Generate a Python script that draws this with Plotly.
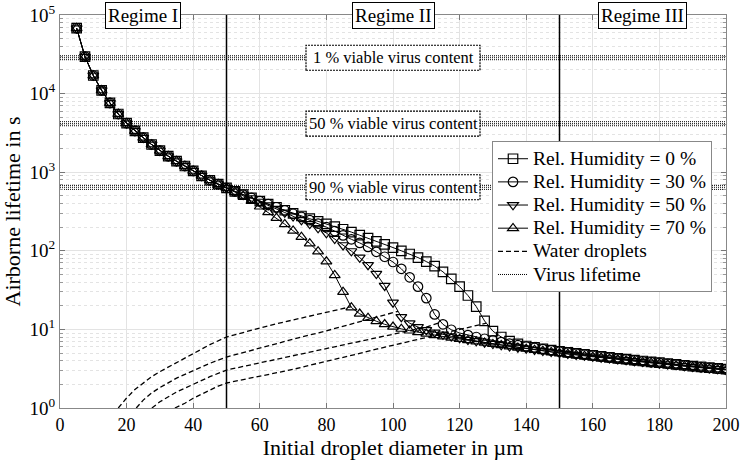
import math
import plotly.graph_objects as go

# initial droplet diameter (um), one marker every 2.5 um
diameter = [5, 7.5, 10, 12.5, 15, 17.5, 20, 22.5, 25, 27.5,
            30, 32.5, 35, 37.5, 40, 42.5, 45, 47.5, 50,
            52.5, 55, 57.5, 60, 62.5, 65, 67.5, 70, 72.5, 75,
            77.5, 80, 82.5, 85, 87.5, 90, 92.5, 95, 97.5, 100,
            102.5, 105, 107.5, 110, 112.5, 115, 117.5, 120, 122.5, 125,
            127.5, 130, 132.5, 135, 137.5, 140, 142.5, 145, 147.5, 150,
            152.5, 155, 157.5, 160, 162.5, 165, 167.5, 170, 172.5, 175,
            177.5, 180, 182.5, 185, 187.5, 190, 192.5, 195, 197.5, 200]

# regime I, same for every humidity (5 .. 50 um)
shared_regime1 = [68000, 29500, 17000, 11000, 7600, 5500, 4200, 3350, 2750, 2250,
                  1880, 1600, 1380, 1200, 1040, 900, 790, 705, 630]

# 52.5 .. 200 um
rh0_tail = [570, 518, 470, 428, 392, 358, 328, 300, 277, 256,
            237, 220, 203, 188, 173, 158, 145, 132, 121, 110,
            100, 91, 82, 73, 64, 54, 44, 35, 27, 19.5,
            12.8, 9.5, 8.0, 7.1, 6.55, 6.15, 5.9, 5.65, 5.45, 5.27,
            5.1, 4.95, 4.8, 4.66, 4.53, 4.4, 4.29, 4.18, 4.07, 3.96,
            3.87, 3.77, 3.68, 3.59, 3.5, 3.42, 3.34, 3.27, 3.19, 3.12]
rh30_tail = [570, 518, 470, 428, 392, 358, 326, 296, 270, 245,
             222, 200, 178, 157, 140, 126, 112, 97, 84, 72,
             59, 46, 35, 25, 15.5, 11.6, 9.9, 9.0, 8.45, 8.0,
             7.6, 7.25, 6.9, 6.6, 6.3, 6.05, 5.82, 5.6, 5.4, 5.22,
             5.06, 4.91, 4.76, 4.62, 4.49, 4.37, 4.25, 4.14, 4.03, 3.93,
             3.83, 3.74, 3.65, 3.56, 3.47, 3.39, 3.31, 3.24, 3.16, 3.09]
rh50_tail = [570, 518, 468, 422, 380, 342, 307, 275, 246, 220,
             195, 168, 142, 118, 99, 82, 66, 51, 36, 22,
             14.4, 12.0, 10.7, 9.8, 9.15, 8.6, 8.15, 7.75, 7.4, 7.1,
             6.82, 6.56, 6.32, 6.1, 5.9, 5.7, 5.52, 5.35, 5.2, 5.05,
             4.91, 4.77, 4.64, 4.52, 4.4, 4.29, 4.18, 4.07, 3.97, 3.87,
             3.78, 3.69, 3.6, 3.51, 3.43, 3.35, 3.28, 3.2, 3.13, 3.06]
rh70_tail = [560, 500, 430, 365, 310, 262, 218, 180, 150, 124,
             98, 73, 49, 30, 19, 15.8, 14.0, 12.7, 11.6, 10.8,
             10.15, 9.65, 9.2, 8.8, 8.45, 8.12, 7.82, 7.55, 7.28, 7.03,
             6.78, 6.5, 6.27, 6.05, 5.85, 5.65, 5.47, 5.3, 5.14, 4.99,
             4.85, 4.72, 4.59, 4.47, 4.35, 4.24, 4.13, 4.03, 3.93, 3.83,
             3.74, 3.65, 3.56, 3.48, 3.4, 3.32, 3.25, 3.17, 3.1, 3.03]

humidity_names = ["Rel. Humidity = 0 %", "Rel. Humidity = 30 %",
                  "Rel. Humidity = 50 %", "Rel. Humidity = 70 %"]
humidity_symbols = ["square-open", "circle-open", "triangle-down-open", "triangle-up-open"]
humidity_values = [shared_regime1 + rh0_tail, shared_regime1 + rh30_tail,
                   shared_regime1 + rh50_tail, shared_regime1 + rh70_tail]

# pure water droplets (dashed)
water_d = [
    [34.5, 37.5, 40, 42.5, 45, 47.5, 50, 55, 60, 65, 70, 75, 80, 85, 90, 95, 100, 105, 110, 115, 120, 125, 128],
    [27.6, 30, 35, 40, 45, 50, 60, 70, 80, 90, 100, 110, 114],
    [22.9, 25, 27.5, 30, 35, 40, 45, 50, 60, 70, 80, 90, 100, 101.5],
    [17.5, 20, 22.5, 25, 27.5, 30, 35, 40, 45, 50, 55, 60, 65, 70, 75, 80, 85, 87.5],
]
water_t = [
    [1.0, 1.15, 1.33, 1.5, 1.7, 1.9, 2.08, 2.3, 2.5, 2.78, 3.1, 3.5, 3.9, 4.4, 4.95, 5.6, 6.25, 7.0, 7.9, 8.9, 10.0, 11.2, 12.0],
    [1.0, 1.2, 1.6, 2.0, 2.5, 3.04, 3.74, 4.6, 5.7, 7.0, 8.6, 10.7, 12.2],
    [1.0, 1.26, 1.55, 1.82, 2.4, 3.0, 3.7, 4.45, 5.8, 7.5, 9.6, 12.4, 16.2, 17.0],
    [1.0, 1.34, 1.72, 2.1, 2.5, 2.9, 3.8, 5.0, 6.4, 8.0, 9.2, 10.4, 11.8, 13.2, 14.8, 16.6, 18.6, 19.5],
]

# virus lifetime bands (s)
virus_labels = ["1 % viable virus content", "50 % viable virus content", "90 % viable virus content"]
virus_bands = [[27000, 28600, 30300], [3900, 4140, 4390], [605, 643, 680]]
x_span = [0, 200]

regime_names = ["Regime I", "Regime II", "Regime III"]
regime_centers = [25, 100, 175]
regime_bounds = [50, 150]

FONT = "Liberation Serif, Times New Roman, serif"

# plot box is 666 x 393 px -> used to size the label frames
PX_PER_UM = 666 / 200
PX_PER_DECADE = 393 / 5


def leg(name):
    # legend spacing follows legend.font.size, the text itself is drawn larger
    return '<span style="font-size:19.5px">' + name + "</span>"


fig = go.Figure()

first = True
for band in virus_bands:
    for v in band:
        fig.add_trace(go.Scatter(
            x=x_span, y=[v, v], mode="lines", name=leg("Virus lifetime"),
            line=dict(color="black", width=1, dash="1px,1px"),
            legendgroup="virus", showlegend=first, legendrank=6))
        first = False

for i in range(len(water_d)):
    fig.add_trace(go.Scatter(
        x=water_d[i], y=water_t[i], mode="lines", name=leg("Water droplets"),
        line=dict(color="black", width=1.3, dash="5px,3px"),
        legendgroup="water", showlegend=(i == 0), legendrank=5))

for i in range(len(humidity_names)):
    fig.add_trace(go.Scatter(
        x=diameter, y=humidity_values[i], mode="lines+markers", name=leg(humidity_names[i]),
        line=dict(color="black", width=1),
        marker=dict(symbol=humidity_symbols[i], size=9.5, color="black", line=dict(width=1.2, color="black")),
        legendrank=i + 1))

shapes = []
for b in regime_bounds:
    shapes.append(dict(type="line", xref="x", yref="paper", x0=b, x1=b, y0=0, y1=1,
                       line=dict(color="black", width=1.5), layer="above"))

annotations = []
for name, cx in zip(regime_names, regime_centers):
    annotations.append(dict(text=name, x=cx, xref="x", y=1, yref="paper", yanchor="middle",
                            showarrow=False, font=dict(family=FONT, size=19, color="black"),
                            bgcolor="white", bordercolor="black", borderwidth=1, borderpad=2))

half_w = 87 / PX_PER_UM
half_h = 10 ** (12.5 / PX_PER_DECADE)
for label, band in zip(virus_labels, virus_bands):
    mid = band[1]
    shapes.append(dict(type="rect", xref="x", yref="y",
                       x0=100 - half_w, x1=100 + half_w, y0=mid / half_h, y1=mid * half_h,
                       fillcolor="white", line=dict(color="black", width=1.2, dash="2px,1px"),
                       layer="above"))
    annotations.append(dict(text=label, x=100, xref="x", y=math.log10(mid), yref="y",
                            showarrow=False, font=dict(family=FONT, size=16.5, color="black"),
                            bgcolor="white", borderpad=0))

minor_vals = [m * 10 ** e for e in range(5) for m in range(2, 10)]

fig.update_layout(
    width=740, height=463,
    margin=dict(l=60, r=14, t=15, b=55),
    plot_bgcolor="white", paper_bgcolor="white",
    font=dict(family=FONT, size=18, color="black"),
    shapes=shapes, annotations=annotations,
    legend=dict(x=0.979, y=0.679, xanchor="right", yanchor="top",
                bgcolor="white", bordercolor="#888", borderwidth=1,
                font=dict(family=FONT, size=15.5), itemwidth=30, tracegroupgap=0),
)

fig.update_xaxes(
    range=[0, 200], tick0=0, dtick=20, showgrid=True, gridcolor="#e3e3e3",
    ticks="inside", ticklen=5, tickcolor="#777", showline=True, linecolor="#888",
    mirror="ticks", zeroline=False, automargin=False, tickfont=dict(size=18),
    title=dict(text="Initial droplet diameter in µm", font=dict(size=22), standoff=2),
)
fig.update_yaxes(
    type="log", range=[0, 5],
    tickvals=[1, 10, 100, 1000, 10000, 100000],
    ticktext=["10<sup>0</sup>", "10<sup>1</sup>", "10<sup>2</sup>", "10<sup>3</sup>", "10<sup>4</sup>", "10<sup>5</sup>"],
    showgrid=True, gridcolor="#e3e3e3",
    ticks="inside", ticklen=5, tickcolor="#777", showline=True, linecolor="#888",
    mirror="ticks", zeroline=False, automargin=False, tickfont=dict(size=19),
    minor=dict(tickvals=minor_vals, ticks="inside", ticklen=3, tickcolor="#999",
               showgrid=True, gridcolor="#e3e3e3", griddash="dot"),
    title=dict(text="Airborne lifetime in s", font=dict(size=22), standoff=4),
)

# the default page has an 8px body margin; drop it so the figure fills the window
fig.write_html("out.html", config={"displayModeBar": False},
               post_script="document.body.style.margin = '0px';")
